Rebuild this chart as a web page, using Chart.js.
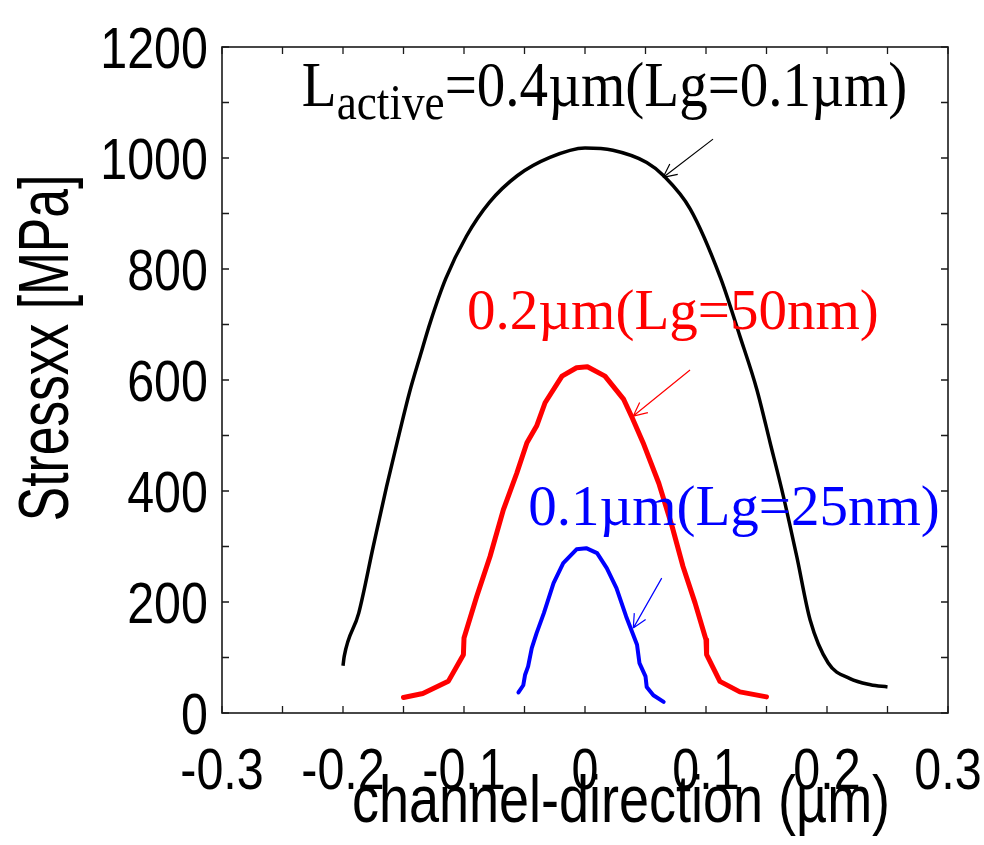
<!DOCTYPE html>
<html>
<head>
<meta charset="utf-8">
<script src="https://cdn.jsdelivr.net/npm/chart.js@4.4.1/dist/chart.umd.min.js"></script>
<style>
  html, body { margin: 0; padding: 0; background: #ffffff; }
  #wrap { width: 984px; height: 845px; }
</style>
</head>
<body>
<div id="wrap"><canvas id="c" width="984" height="845"></canvas></div>
<script>
// ---- data ----
const xTickValues = [-0.3, -0.2, -0.1, 0, 0.1, 0.2, 0.3];
const xTickLabels = ["-0.3", "-0.2", "-0.1", "0", "0.1", "0.2", "0.3"];
const yTickValues = [0, 200, 400, 600, 800, 1000, 1200];
const yTickLabels = ["0", "200", "400", "600", "800", "1000", "1200"];

const seriesNames = ["Lactive=0.4\u00b5m(Lg=0.1\u00b5m)", "0.2\u00b5m(Lg=50nm)", "0.1\u00b5m(Lg=25nm)"];

const blackX = [-0.2, -0.199, -0.187, -0.175, -0.164, -0.154, -0.145, -0.136, -0.128, -0.115, -0.098, -0.079, -0.056, -0.029, 0, 0.023, 0.051, 0.065, 0.087, 0.112, 0.128, 0.142, 0.153, 0.164, 0.175, 0.186, 0.201, 0.219, 0.236, 0.25];
const blackY = [85, 102, 180, 300, 408, 499, 578, 645, 703, 783, 859, 920, 968, 1001, 1018, 1014, 992, 968, 908, 784, 679, 583, 487, 390, 282, 168, 90, 62, 51, 47];

const redX = [-0.150, -0.134, -0.113, -0.1005, -0.1, -0.0895, -0.0785, -0.0675, -0.0564, -0.048, -0.040, -0.033, -0.019, -0.007, 0.002, 0.0165, 0.032, 0.039, 0.048, 0.061, 0.072, 0.081, 0.091, 0.1, 0.1005, 0.1115, 0.128, 0.150];
const redY = [28, 35, 57, 105, 135, 210, 282, 366, 432, 487, 517, 559, 607, 622, 624, 607, 565, 532, 487, 414, 336, 264, 198, 132, 105, 57, 38, 29];

const blueX = [-0.055, -0.051, -0.0495, -0.047, -0.044, -0.040, -0.034, -0.026, -0.018, -0.007, 0.001, 0.010, 0.018, 0.026, 0.034, 0.043, 0.045, 0.050, 0.051, 0.0565, 0.065];
const blueY = [37, 50, 69, 84, 117, 144, 180, 234, 270, 295, 297, 288, 261, 225, 174, 123, 90, 66, 47, 32, 20];

// ---- styling / layout ----
const SERIF = "'Liberation Serif', 'Times New Roman', serif";
const SANS = "'Liberation Sans', Arial, sans-serif";

const toPts = (xs, ys) => xs.map((x, i) => ({ x: x, y: ys[i] }));

const annotations = [
  { color: "#000000", x: -0.234, y: 1093, size: 63, sub: true, sx: 0.905 },
  { color: "#ff0000", x: -0.0975, y: 691, size: 57, sub: false, sx: 1.0 },
  { color: "#0000ff", x: -0.047, y: 339, size: 57, sub: false, sx: 1.0 }
];
const arrows = [
  { color: "#000000", from: [0.1058, 1034], to: [0.0645, 965] },
  { color: "#ff0000", from: [0.0868, 618], to: [0.0399, 535] },
  { color: "#0000ff", from: [0.0634, 243], to: [0.0399, 153] }
];

function condensedText(ctx, text, x, y, sx) {
  ctx.save();
  ctx.translate(x, y);
  ctx.scale(sx, 1);
  ctx.fillText(text, 0, 0);
  ctx.restore();
}

const framePlugin = {
  id: "frame",
  afterDatasetsDraw(chart) {
    const ctx = chart.ctx;
    const xs = chart.scales.x, ys = chart.scales.y;
    const a = chart.chartArea;
    ctx.save();
    ctx.strokeStyle = "#1a1a1a";
    ctx.lineWidth = 1.6;
    ctx.strokeRect(a.left, a.top, a.right - a.left, a.bottom - a.top);
    const TL = 7;
    ctx.lineWidth = 1.3;
    ctx.beginPath();
    for (let i = -6; i <= 6; i++) {
      const px = xs.getPixelForValue(i * 0.05);
      ctx.moveTo(px, a.bottom); ctx.lineTo(px, a.bottom - TL);
      ctx.moveTo(px, a.top); ctx.lineTo(px, a.top + TL);
    }
    for (let v = 0; v <= 1200; v += 100) {
      const py = ys.getPixelForValue(v);
      ctx.moveTo(a.left, py); ctx.lineTo(a.left + TL, py);
      ctx.moveTo(a.right, py); ctx.lineTo(a.right - TL, py);
    }
    ctx.stroke();
    ctx.restore();
  },
  afterDraw(chart) {
    const ctx = chart.ctx;
    const xs = chart.scales.x, ys = chart.scales.y;
    const a = chart.chartArea;
    ctx.save();
    ctx.fillStyle = "#000";
    ctx.textBaseline = "alphabetic";

    // tick labels, from the scales' own ticks
    ctx.font = "57px " + SANS;
    ctx.textAlign = "right";
    ys.ticks.forEach((t, i) => {
      const py = ys.getPixelForValue(t.value);
      condensedText(ctx, yTickLabels[i], a.left - 14, py + 21, 0.85);
    });
    ctx.textAlign = "center";
    xs.ticks.forEach((t, i) => {
      const px = xs.getPixelForValue(t.value);
      condensedText(ctx, xTickLabels[i], px, a.bottom + 76, 0.85);
    });

    // axis titles
    ctx.font = "66px " + SANS;
    condensedText(ctx, "channel-direction (\u00b5m)", 621, 822, 0.818);

    ctx.font = "70px " + SANS;
    ctx.save();
    ctx.translate(68, 348);
    ctx.rotate(-Math.PI / 2);
    ctx.scale(0.736, 1);
    ctx.fillText("Stressxx [MPa]", 0, 0);
    ctx.restore();

    // series annotations
    ctx.textAlign = "left";
    annotations.forEach((an, i) => {
      const px = xs.getPixelForValue(an.x);
      const py = ys.getPixelForValue(an.y);
      ctx.fillStyle = an.color;
      ctx.save();
      ctx.translate(px, py);
      ctx.scale(an.sx, 1);
      if (an.sub) {
        const name = seriesNames[i];
        const head = name.slice(0, 1);
        const sub = name.slice(1, 7);
        const rest = name.slice(7);
        ctx.font = an.size + "px " + SERIF;
        ctx.fillText(head, 0, 0);
        let cx = ctx.measureText(head).width;
        ctx.font = Math.round(an.size * 0.8) + "px " + SERIF;
        ctx.fillText(sub, cx, 13);
        cx += ctx.measureText(sub).width;
        ctx.font = an.size + "px " + SERIF;
        ctx.fillText(rest, cx, 0);
      } else {
        ctx.font = an.size + "px " + SERIF;
        ctx.fillText(seriesNames[i], 0, 0);
      }
      ctx.restore();
    });

    // arrows
    arrows.forEach(ar => {
      const x1 = xs.getPixelForValue(ar.from[0]), y1 = ys.getPixelForValue(ar.from[1]);
      const x2 = xs.getPixelForValue(ar.to[0]), y2 = ys.getPixelForValue(ar.to[1]);
      const ang = Math.atan2(y2 - y1, x2 - x1);
      const hl = 15, hw = 0.45;
      ctx.strokeStyle = ar.color;
      ctx.lineWidth = 1.2;
      ctx.beginPath();
      ctx.moveTo(x1, y1); ctx.lineTo(x2, y2);
      ctx.moveTo(x2, y2); ctx.lineTo(x2 - hl * Math.cos(ang - hw), y2 - hl * Math.sin(ang - hw));
      ctx.moveTo(x2, y2); ctx.lineTo(x2 - hl * Math.cos(ang + hw), y2 - hl * Math.sin(ang + hw));
      ctx.stroke();
    });
    ctx.restore();
  }
};

const chart = new Chart(document.getElementById("c"), {
  type: "scatter",
  data: {
    datasets: [
      { label: seriesNames[0], data: toPts(blackX, blackY), showLine: true, borderColor: "#000000", borderWidth: 3.5, pointRadius: 0, cubicInterpolationMode: "monotone", fill: false },
      { label: seriesNames[1], data: toPts(redX, redY), showLine: true, borderColor: "#ff0000", borderWidth: 5, pointRadius: 0, tension: 0, fill: false, borderJoinStyle: "round", borderCapStyle: "round" },
      { label: seriesNames[2], data: toPts(blueX, blueY), showLine: true, borderColor: "#0000ff", borderWidth: 4, pointRadius: 0, tension: 0, fill: false, borderJoinStyle: "round", borderCapStyle: "round" }
    ]
  },
  options: {
    responsive: false,
    devicePixelRatio: 1,
    animation: false,
    layout: { padding: { left: 0, top: 47, right: 36, bottom: 0 } },
    plugins: { legend: { display: false }, tooltip: { enabled: false }, title: { display: false } },
    scales: {
      x: {
        type: "linear", min: -0.3, max: 0.3,
        afterBuildTicks: s => { s.ticks = xTickValues.map(v => ({ value: v })); },
        afterFit: s => { s.height = 132; },
        ticks: { display: false, autoSkip: false },
        grid: { display: false, drawTicks: false },
        border: { display: false }
      },
      y: {
        type: "linear", min: 0, max: 1200,
        afterBuildTicks: s => { s.ticks = yTickValues.map(v => ({ value: v })); },
        afterFit: s => { s.width = 222; },
        ticks: { display: false, autoSkip: false },
        grid: { display: false, drawTicks: false },
        border: { display: false }
      }
    }
  },
  plugins: [framePlugin]
});
</script>
</body>
</html>
